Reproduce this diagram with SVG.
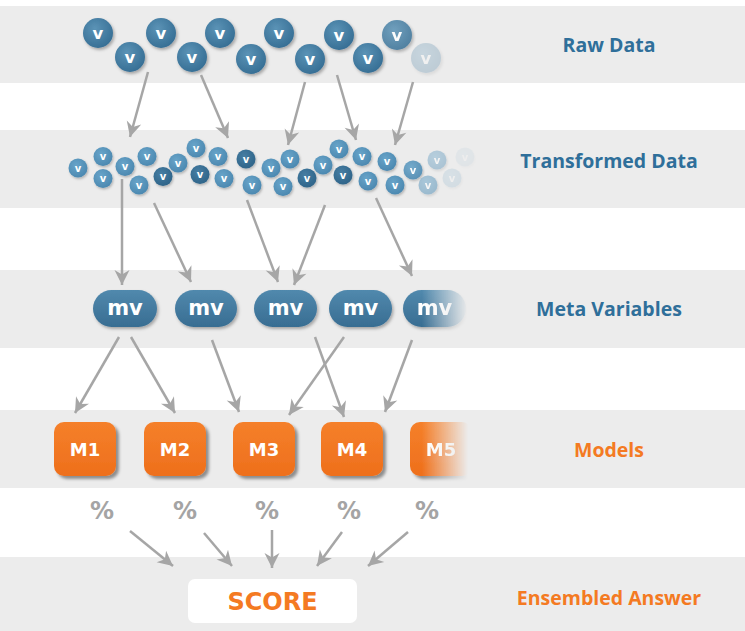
<svg xmlns="http://www.w3.org/2000/svg" width="745" height="631" viewBox="0 0 745 631">
<style>
.band{fill:#ececec}
.lbl{font-family:"Open Sans","DejaVu Sans",sans-serif;font-weight:bold;font-size:19.5px;text-anchor:middle}
.blue{fill:#2f6f9a}
.orange{fill:#f47a22}
.rv{fill:url(#gRaw);filter:url(#sh)}
.tl{fill:url(#gLight);filter:url(#shs)}
.td{fill:url(#gDark);filter:url(#shs)}
.vt{font-family:"DejaVu Sans",sans-serif;font-weight:bold;fill:#fff;text-anchor:middle}
.v16{font-size:16.5px}
.v10{font-size:10px}
.mvp{fill:url(#gMv);filter:url(#sh)}
.mvt{font-family:"DejaVu Sans",sans-serif;font-weight:bold;fill:#fff;font-size:21px;text-anchor:middle}
.mb{fill:url(#gM);filter:url(#shm)}
.mt{font-family:"DejaVu Sans",sans-serif;font-weight:bold;fill:#fff;font-size:18px;text-anchor:middle}
.pct{font-family:"DejaVu Sans",sans-serif;font-weight:bold;fill:#a4a4a4;font-size:24px;text-anchor:middle}
.arr{stroke:#a6a6a6;stroke-width:2.5;fill:none;marker-end:url(#ah)}
</style>
<defs>
<radialGradient id="gRaw" cx="0.4" cy="0.35" r="0.7"><stop offset="0" stop-color="#5b93b6"/><stop offset="1" stop-color="#356d93"/></radialGradient>
<radialGradient id="gLight" cx="0.4" cy="0.35" r="0.7"><stop offset="0" stop-color="#68a4c9"/><stop offset="1" stop-color="#4a87af"/></radialGradient>
<radialGradient id="gDark" cx="0.4" cy="0.35" r="0.7"><stop offset="0" stop-color="#477ea3"/><stop offset="1" stop-color="#2d6388"/></radialGradient>
<linearGradient id="gMv" x1="0" y1="0" x2="0" y2="1"><stop offset="0" stop-color="#5189ad"/><stop offset="1" stop-color="#386d92"/></linearGradient>
<linearGradient id="gM" x1="0" y1="0" x2="0" y2="1"><stop offset="0" stop-color="#f5802a"/><stop offset="1" stop-color="#ee6f1c"/></linearGradient>
<linearGradient id="gFade" gradientUnits="userSpaceOnUse" x1="422" y1="0" x2="468" y2="0"><stop offset="0" stop-color="#fff"/><stop offset="1" stop-color="#fff" stop-opacity="0"/></linearGradient>
<mask id="fade" maskUnits="userSpaceOnUse" x="0" y="0" width="745" height="631"><rect x="0" y="0" width="745" height="631" fill="url(#gFade)"/></mask>
<filter id="sh" x="-30%" y="-30%" width="170%" height="170%"><feDropShadow dx="1.5" dy="2" stdDeviation="1.5" flood-color="#000" flood-opacity="0.3"/></filter>
<filter id="shs" x="-30%" y="-30%" width="170%" height="170%"><feDropShadow dx="1" dy="1.5" stdDeviation="1" flood-color="#000" flood-opacity="0.25"/></filter>
<filter id="shm" x="-20%" y="-20%" width="150%" height="150%"><feDropShadow dx="3" dy="3" stdDeviation="1.8" flood-color="#000" flood-opacity="0.4"/></filter>
<marker id="ah" markerUnits="userSpaceOnUse" viewBox="-16 -8 17 16" markerWidth="17" markerHeight="16" refX="0" refY="0" orient="auto"><path d="M0,0 L-15,-7.5 L-10.5,0 L-15,7.5 Z" fill="#a6a6a6"/></marker>
</defs>

<g id="bands">
<rect class="band" x="0" y="6" width="745" height="77"/>
<rect class="band" x="0" y="130" width="745" height="78"/>
<rect class="band" x="0" y="270" width="745" height="78"/>
<rect class="band" x="0" y="410" width="745" height="78"/>
<rect class="band" x="0" y="557" width="745" height="74"/>
</g>

<g id="labels">
<text class="lbl blue" x="609" y="51.5">Raw Data</text>
<text class="lbl blue" x="609" y="167.5">Transformed Data</text>
<text class="lbl blue" x="609" y="315.5">Meta Variables</text>
<text class="lbl orange" x="609" y="456.5">Models</text>
<text class="lbl orange" x="609" y="604.5">Ensembled Answer</text>
</g>

<g id="raw-data">
<g><circle class="rv" cx="98" cy="33" r="15"/><text class="vt v16" x="98" y="38.5">v</text></g>
<g><circle class="rv" cx="130" cy="57" r="15"/><text class="vt v16" x="130" y="62.5">v</text></g>
<g><circle class="rv" cx="161" cy="33" r="15"/><text class="vt v16" x="161" y="38.5">v</text></g>
<g><circle class="rv" cx="192" cy="57" r="15"/><text class="vt v16" x="192" y="62.5">v</text></g>
<g><circle class="rv" cx="220" cy="33" r="15"/><text class="vt v16" x="220" y="38.5">v</text></g>
<g><circle class="rv" cx="251" cy="59" r="15"/><text class="vt v16" x="251" y="64.5">v</text></g>
<g><circle class="rv" cx="279" cy="33" r="15"/><text class="vt v16" x="279" y="38.5">v</text></g>
<g><circle class="rv" cx="310" cy="59" r="15"/><text class="vt v16" x="310" y="64.5">v</text></g>
<g><circle class="rv" cx="339" cy="35" r="15"/><text class="vt v16" x="339" y="40.5">v</text></g>
<g><circle class="rv" cx="368" cy="58" r="15"/><text class="vt v16" x="368" y="63.5">v</text></g>
<g opacity="0.85"><circle class="rv" cx="397" cy="35" r="15"/><text class="vt v16" x="397" y="40.5">v</text></g>
<g opacity="0.25"><circle class="rv" cx="426" cy="58" r="15"/><text class="vt v16" x="426" y="63.5">v</text></g>
</g>

<g id="transformed-data">
<g><circle class="tl" cx="78" cy="168" r="9.5"/><text class="vt v10" x="78" y="171.5">v</text></g>
<g><circle class="tl" cx="103" cy="156.5" r="9.5"/><text class="vt v10" x="103" y="160">v</text></g>
<g><circle class="tl" cx="103" cy="178.5" r="9.5"/><text class="vt v10" x="103" y="182">v</text></g>
<g><circle class="tl" cx="125" cy="166.5" r="9.5"/><text class="vt v10" x="125" y="170">v</text></g>
<g><circle class="tl" cx="147" cy="156.5" r="9.5"/><text class="vt v10" x="147" y="160">v</text></g>
<g><circle class="tl" cx="139" cy="185" r="9.5"/><text class="vt v10" x="139" y="188.5">v</text></g>
<g><circle class="td" cx="163" cy="176.5" r="9.5"/><text class="vt v10" x="163" y="180">v</text></g>
<g><circle class="tl" cx="178" cy="163" r="9.5"/><text class="vt v10" x="178" y="166.5">v</text></g>
<g><circle class="tl" cx="196" cy="148" r="9.5"/><text class="vt v10" x="196" y="151.5">v</text></g>
<g><circle class="td" cx="200" cy="174.5" r="9.5"/><text class="vt v10" x="200" y="178">v</text></g>
<g><circle class="tl" cx="218" cy="156.5" r="9.5"/><text class="vt v10" x="218" y="160">v</text></g>
<g><circle class="tl" cx="224" cy="178.5" r="9.5"/><text class="vt v10" x="224" y="182">v</text></g>
<g><circle class="td" cx="246" cy="159" r="9.5"/><text class="vt v10" x="246" y="162.5">v</text></g>
<g><circle class="tl" cx="252" cy="185" r="9.5"/><text class="vt v10" x="252" y="188.5">v</text></g>
<g><circle class="tl" cx="271" cy="168" r="9.5"/><text class="vt v10" x="271" y="171.5">v</text></g>
<g><circle class="tl" cx="290" cy="159" r="9.5"/><text class="vt v10" x="290" y="162.5">v</text></g>
<g><circle class="tl" cx="283" cy="186.5" r="9.5"/><text class="vt v10" x="283" y="190">v</text></g>
<g><circle class="td" cx="307" cy="178" r="9.5"/><text class="vt v10" x="307" y="181.5">v</text></g>
<g><circle class="tl" cx="323" cy="165" r="9.5"/><text class="vt v10" x="323" y="168.5">v</text></g>
<g><circle class="tl" cx="339" cy="149" r="9.5"/><text class="vt v10" x="339" y="152.5">v</text></g>
<g><circle class="td" cx="343" cy="175" r="9.5"/><text class="vt v10" x="343" y="178.5">v</text></g>
<g><circle class="tl" cx="362" cy="156.5" r="9.5"/><text class="vt v10" x="362" y="160">v</text></g>
<g><circle class="tl" cx="368" cy="181" r="9.5"/><text class="vt v10" x="368" y="184.5">v</text></g>
<g><circle class="tl" cx="387" cy="161.5" r="9.5"/><text class="vt v10" x="387" y="165">v</text></g>
<g><circle class="tl" cx="395" cy="185" r="9.5"/><text class="vt v10" x="395" y="188.5">v</text></g>
<g opacity="0.9"><circle class="tl" cx="413" cy="170" r="9.5"/><text class="vt v10" x="413" y="173.5">v</text></g>
<g opacity="0.5"><circle class="tl" cx="428" cy="185" r="9.5"/><text class="vt v10" x="428" y="188.5">v</text></g>
<g opacity="0.4"><circle class="tl" cx="437" cy="160" r="9.5"/><text class="vt v10" x="437" y="163.5">v</text></g>
<g opacity="0.15"><circle class="tl" cx="452" cy="178" r="9.5"/><text class="vt v10" x="452" y="181.5">v</text></g>
<g opacity="0.07"><circle class="tl" cx="465" cy="157" r="9.5"/><text class="vt v10" x="465" y="160.5">v</text></g>
</g>

<g id="meta-variables">
<g id="mv1"><rect class="mvp" x="93" y="290" width="64" height="37" rx="18.5"/><text class="mvt" x="125" y="314.5">mv</text></g>
<g id="mv2"><rect class="mvp" x="175" y="290" width="62" height="37" rx="18.5"/><text class="mvt" x="206" y="314.5">mv</text></g>
<g id="mv3"><rect class="mvp" x="254" y="290" width="63" height="37" rx="18.5"/><text class="mvt" x="285.5" y="314.5">mv</text></g>
<g id="mv4"><rect class="mvp" x="329" y="290" width="63" height="37" rx="18.5"/><text class="mvt" x="360.5" y="314.5">mv</text></g>
<g id="mv5" mask="url(#fade)"><rect class="mvp" x="403" y="290" width="63" height="37" rx="18.5"/><text class="mvt" x="434.5" y="314.5">mv</text></g>
</g>

<g id="models">
<g id="M1"><rect class="mb" x="54" y="422" width="62" height="54" rx="10"/><text class="mt" x="85" y="455.5">M1</text></g>
<g id="M2"><rect class="mb" x="144" y="422" width="62" height="54" rx="10"/><text class="mt" x="175" y="455.5">M2</text></g>
<g id="M3"><rect class="mb" x="233" y="422" width="62" height="54" rx="10"/><text class="mt" x="264" y="455.5">M3</text></g>
<g id="M4"><rect class="mb" x="321" y="422" width="62" height="54" rx="10"/><text class="mt" x="352" y="455.5">M4</text></g>
<g id="M5" mask="url(#fade)"><rect class="mb" x="410" y="422" width="62" height="54" rx="10"/><text class="mt" x="441" y="455.5">M5</text></g>
</g>

<g id="percentages">
<text class="pct" x="102" y="518.5">%</text>
<text class="pct" x="185" y="518.5">%</text>
<text class="pct" x="267" y="518.5">%</text>
<text class="pct" x="349" y="518.5">%</text>
<text class="pct" x="427" y="518.5">%</text>
</g>

<g id="score">
<rect x="188" y="579" width="169" height="44" rx="7" fill="#fff"/>
<text x="272.5" y="610" font-family="DejaVu Sans, sans-serif" font-weight="bold" font-size="24" fill="#f47a22" text-anchor="middle">SCORE</text>
</g>

<g id="connectors">
<line class="arr" x1="148" y1="72" x2="130" y2="137"/>
<line class="arr" x1="201" y1="75" x2="228" y2="138"/>
<line class="arr" x1="305" y1="82" x2="288" y2="145"/>
<line class="arr" x1="337" y1="75" x2="356" y2="140"/>
<line class="arr" x1="413" y1="82" x2="395" y2="145"/>
<line class="arr" x1="122" y1="179" x2="122" y2="285"/>
<line class="arr" x1="154" y1="203" x2="191" y2="282"/>
<line class="arr" x1="247" y1="200" x2="278" y2="282"/>
<line class="arr" x1="325" y1="205" x2="294" y2="285"/>
<line class="arr" x1="376" y1="198" x2="412" y2="276"/>
<line class="arr" x1="119" y1="337" x2="75" y2="413"/>
<line class="arr" x1="131" y1="337" x2="175" y2="413"/>
<line class="arr" x1="212" y1="340" x2="239" y2="412"/>
<line class="arr" x1="344" y1="337" x2="289" y2="415"/>
<line class="arr" x1="315" y1="337" x2="344" y2="417"/>
<line class="arr" x1="412" y1="340" x2="385" y2="412"/>
<line class="arr" x1="130" y1="531" x2="173" y2="566"/>
<line class="arr" x1="204" y1="533" x2="232" y2="566"/>
<line class="arr" x1="272" y1="530" x2="272" y2="568"/>
<line class="arr" x1="342" y1="532" x2="317" y2="566"/>
<line class="arr" x1="408" y1="532" x2="368" y2="566"/>
</g>
</svg>
